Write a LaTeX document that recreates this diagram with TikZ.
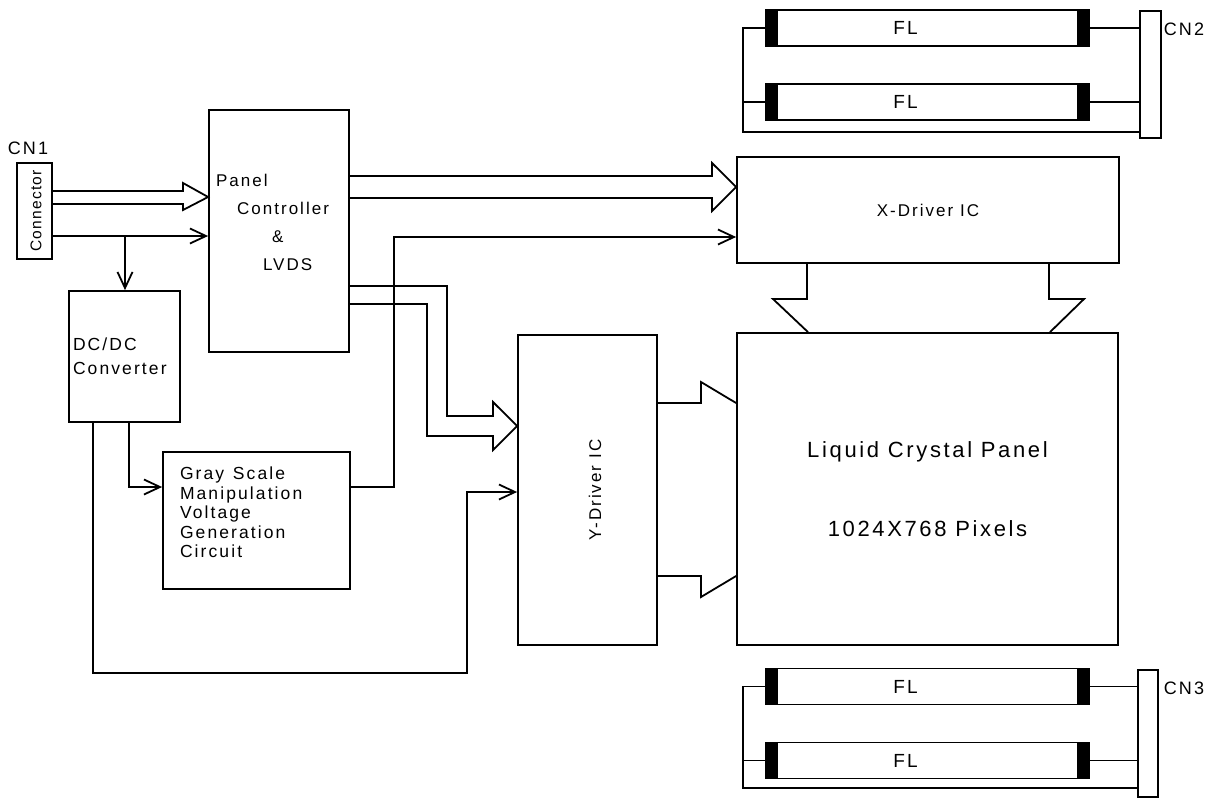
\documentclass[tikz,border=0pt]{standalone}
\usepackage{fontspec}
\usepackage{graphicx}
\setmainfont{Liberation Sans}[LetterSpace=12]
\usetikzlibrary{arrows.meta,calc}

\newcommand{\fs}[1]{\fontsize{#1}{#1}\selectfont}

\tikzset{
  blk/.style={draw, rectangle, inner sep=0pt},
  sig/.style={-{Straight Barb[length=16pt,width=15pt]}},
  tube/.style={draw, rectangle, inner sep=0pt, minimum width=323pt, minimum height=36pt,
    path picture={
      \fill (path picture bounding box.north west) rectangle ([xshift=12pt]path picture bounding box.south west);
      \fill (path picture bounding box.north east) rectangle ([xshift=-12pt]path picture bounding box.south east);
    },
    label={[xshift=-22pt, font=\fs{19}]center:FL}},
}

\begin{document}
\begin{tikzpicture}[x=1pt, y=-1pt, line width=1.8pt]
      \useasboundingbox (0,0) rectangle (1215,798);
      % blocks
      \node[blk, minimum width=35pt, minimum height=96pt] (conn) at (34.5,211)
        {\hspace*{3pt}\rotatebox{90}{\fontsize{15.5}{15.5}\selectfont\addfontfeature{LetterSpace=8}Connector}};
      \node[font=\fs{18}] (cn1) at (28,148) {CN1};
      \node[blk, minimum width=140pt, minimum height=242pt, inner xsep=7pt, text width=126pt,
        align=left, font=\fontsize{17}{28}\selectfont] (pc) at (279,231)
        {Panel\\ \hspace*{21pt}Controller\\ \hspace*{56pt}\&\\ \hspace*{47pt}LVDS\\[-10pt]\mbox{}};
      \node[blk, minimum width=111pt, minimum height=131pt, inner xsep=4pt, text width=103pt,
        align=left, font=\fontsize{17.5}{24}\selectfont] (dcdc) at (124.5,356.5)
        {DC/DC\\Converter};
      \node[blk, minimum width=187pt, minimum height=137pt, inner xsep=17pt, text width=153pt,
        align=left, font=\fontsize{17.5}{19.5}\selectfont] (gray) at (256.5,520.5)
        {Gray\, Scale\\Manipulation\\Voltage\\Generation\\Circuit\\[-3pt]\mbox{}};
      \node[blk, minimum width=382pt, minimum height=106pt, font=\fs{17}] (xdrv) at (928,210)
        {X-Driver IC};
      \node[blk, minimum width=139pt, minimum height=310pt] (ydrv) at (587.5,490)
        {\hspace*{15pt}\rotatebox{90}{\fs{17}Y-Driver IC}};
      \node[blk, minimum width=381pt, minimum height=312pt, align=center,
        font=\fontsize{22}{24}\selectfont] (lcd) at (927.5,489)
        {Liquid Crystal Panel\\[55pt]1024X768 Pixels};
      % lamps
      \node[tube] (fla) at (927.5,28) {};
      \node[tube] (flb) at (927.5,102) {};
      \node[blk, minimum width=21pt, minimum height=127pt] (cn2) at (1150.5,74.5) {};
      \node[font=\fs{18}] (cn2lbl) at (1184,29) {CN2};
      \node[tube] (flc) at (927.5,686.5) {};
      \node[tube] (fld) at (927.5,760.5) {};
      \node[blk, minimum width=20pt, minimum height=127pt] (cn3) at (1148,733.5) {};
      \node[font=\fs{18}] (cn3lbl) at (1184,688) {CN3};
      % buses
      \draw (conn.east |- 0,191) -- (183,191) -- (183,183) -- (pc.west |- 0,197)
        -- (183,210) -- (183,204) -- (conn.east |- 0,204);
      \draw (pc.east |- 0,176) -- (712,176) -- (712,163) -- (xdrv.west |- 0,187)
        -- (712,211) -- (712,198) -- (pc.east |- 0,198);
      \draw (pc.east |- 0,286) -| (447,416) -- (493,416) -- (493,402) -- (ydrv.west |- 0,426)
        -- (493,450) -- (493,436) -- (427,436) |- (pc.east |- 0,304);
      \draw (xdrv.south -| 807,0) -- (807,299) -- (773,299) -- (lcd.north -| 808,0);
      \draw (xdrv.south -| 1049,0) -- (1049,299) -- (1084,299) -- (lcd.north -| 1050,0);
      \draw (ydrv.east |- 0,403) -- (701,403) -- (701,382) -- (lcd.west |- 0,403);
      \draw (ydrv.east |- 0,576) -- (701,576) -- (701,597) -- (lcd.west |- 0,576);
      % signals
      \coordinate (tap) at (125,236);
      \draw[sig] (conn.east |- tap) -- (pc.west |- tap);
      \draw[sig] (tap) -- (tap |- dcdc.north);
      \draw[sig] (dcdc.south -| 129,0) |- (gray.west |- 0,487);
      \draw[sig] (gray.east |- 0,487) -| (394,237) -- (xdrv.west |- 0,237);
      \draw[sig] (dcdc.south -| 93,0) |- (467,673) |- (ydrv.west |- 0,492);
      % lamp wiring
      \draw (fla.west) -| (743,132) -- (cn2.west |- 0,132);
      \draw (flb.west) -- (flb.west -| 743,0);
      \draw (fla.east) -- (fla.east -| cn2.west);
      \draw (flb.east) -- (flb.east -| cn2.west);
      \draw (flc.west) -| (743,788) -- (cn3.west |- 0,788);
      \draw (fld.west) -- (fld.west -| 743,0);
      \draw (flc.east) -- (flc.east -| cn3.west);
      \draw (fld.east) -- (fld.east -| cn3.west);
    \end{tikzpicture}
\end{document}
